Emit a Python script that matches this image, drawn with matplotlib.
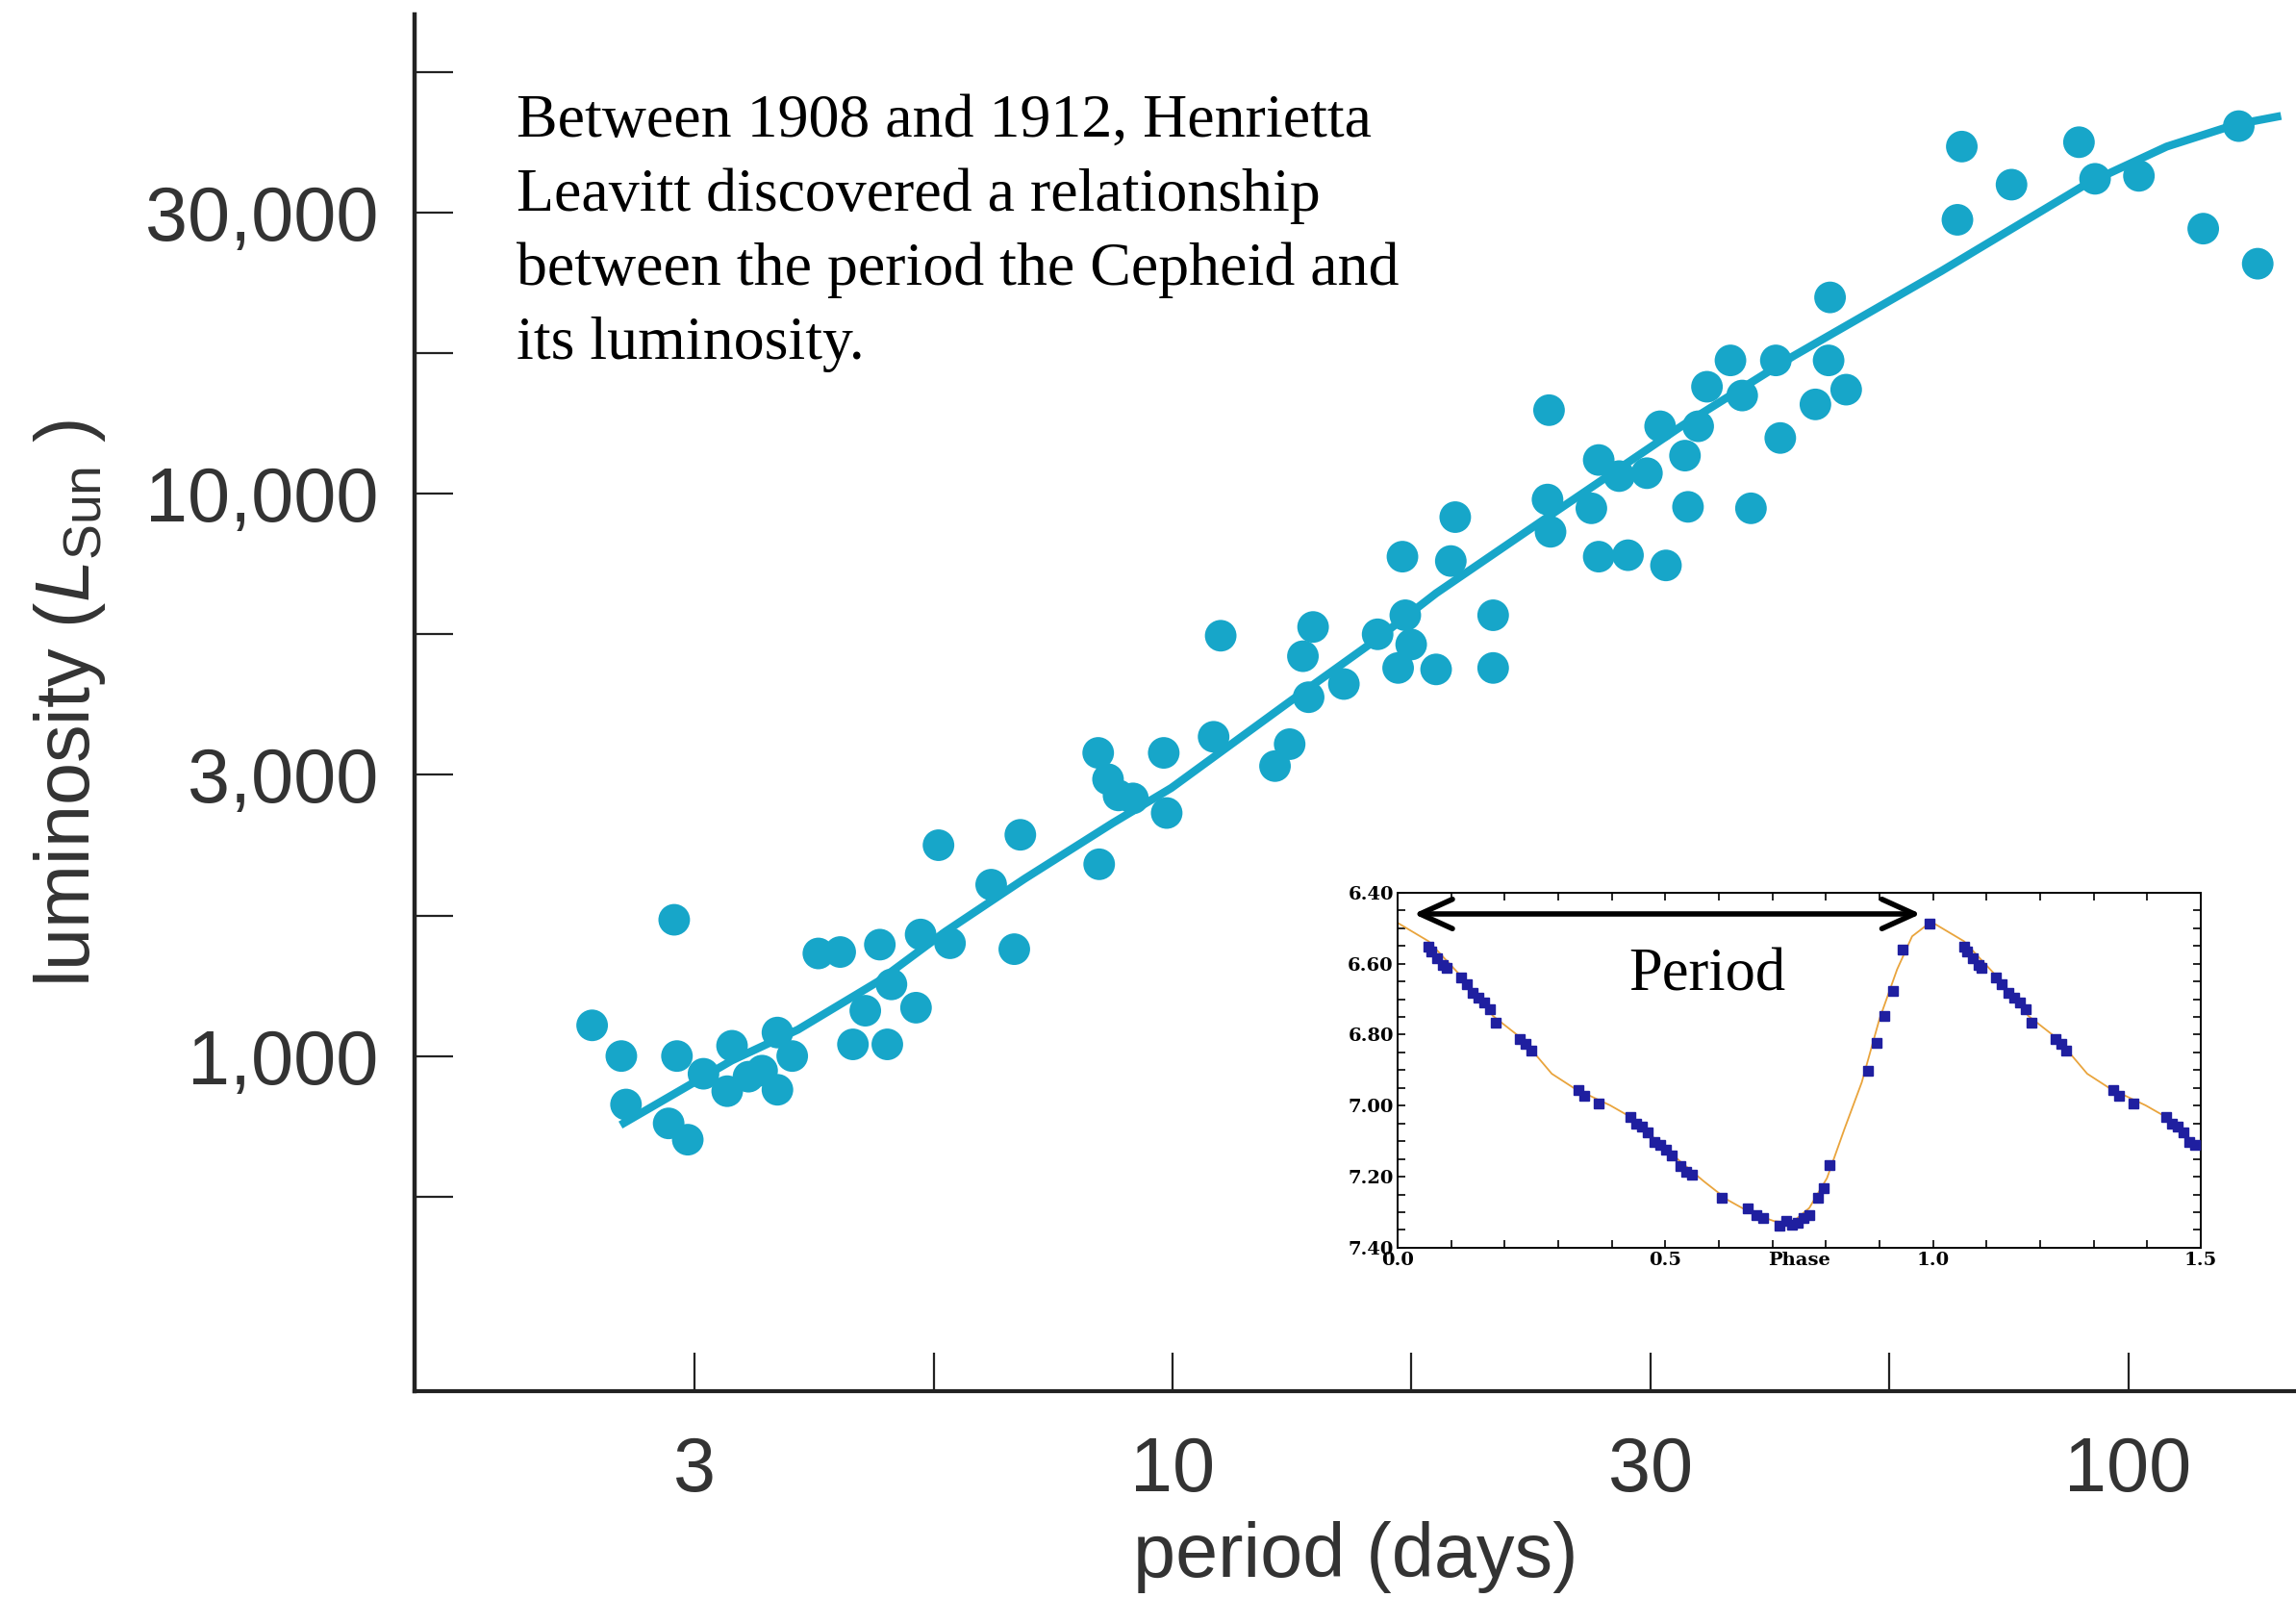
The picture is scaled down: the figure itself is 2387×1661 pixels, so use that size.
import numpy as np
import matplotlib
matplotlib.use("Agg")
import matplotlib.pyplot as plt
from matplotlib.ticker import FixedLocator, NullFormatter, FixedFormatter, MultipleLocator

# ---------------- data (main period-luminosity diagram) ----------------
period_days = [2.47, 2.65, 2.68, 3.01, 2.97, 3.11, 3.03, 3.23, 3.42, 3.46,
               3.60, 3.72, 3.86, 3.86, 4.00, 4.26, 4.49, 4.63, 4.77, 4.94,
               5.03, 5.08, 5.39, 5.45, 5.69, 5.85, 6.46, 6.83, 6.93, 8.36,
               8.38, 8.56, 8.78, 9.09, 9.79, 9.86, 11.04, 11.23, 12.80, 13.26,
               13.69, 13.88, 14.03, 15.11, 16.39, 17.40, 17.52, 17.77, 17.22, 18.87,
               19.55, 19.76, 21.65, 21.65, 24.77, 24.68, 24.86, 27.43, 27.92, 27.92,
               29.33, 29.96, 31.36, 32.37, 32.83, 34.37, 34.62, 35.48, 36.24, 38.35,
               39.45, 40.29, 42.78, 43.24, 47.06, 48.58, 48.75, 50.68, 66.96, 66.26,
               75.48, 88.80, 92.31, 102.6, 119.8, 130.5, 136.6]
luminosity_lsun = [1134, 1000, 820, 1747, 759, 710, 1000, 930, 866, 1043,
                   919, 942, 1101, 871, 1000, 1522, 1531, 1049, 1204, 1578,
                   1049, 1341, 1219, 1645, 2371, 1587, 2017, 1549, 2474, 3460,
                   2193, 3106, 2907, 2872, 3460, 2705, 3696, 5590, 3278, 3586,
                   5140, 4346, 5794, 4587, 5623, 7727, 6079, 5393, 4899, 4870,
                   7590, 9085, 6079, 4899, 14077, 9763, 8554, 9419, 11478, 7727,
                   10746, 7773, 10876, 13178, 7455, 11686, 9475, 13178, 15494, 17258,
                   14947, 9419, 17258, 12561, 14413, 17258, 22336, 15310, 41420, 30690,
                   35440, 42170, 36300, 36740, 29600, 45040, 25640]

fit_period = [2.645, 3.458, 4.055, 4.92, 5.787, 7.00, 8.654, 9.97, 13.26, 16.33,
              18.87, 24.68, 34.25, 44.63, 63.74, 90.70, 109.7, 129.5, 144.5]
fit_lum = [754, 982, 1114, 1357, 1665, 2066, 2595, 2997, 4268, 5500,
           6652, 9085, 13260, 17570, 24880, 35650, 41420, 45330, 46960]

# tick values (log positions) and labels
x_label_vals = [10**0.5, 10**1.0, 10**1.5, 10**2.0]
x_labels = ["3", "10", "30", "100"]
y_label_vals = [10**3.0, 10**3.5, 10**4.0, 10**4.5]
y_labels = ["1,000", "3,000", "10,000", "30,000"]

# ---------------- data (inset light curve, one cycle of phase) ----------------
lc_phase = [0.058, 0.063, 0.074, 0.085, 0.091, 0.118, 0.129, 0.140, 0.151, 0.162,
            0.173, 0.184, 0.228, 0.239, 0.249, 0.337, 0.348, 0.375, 0.435, 0.446,
            0.457, 0.468, 0.479, 0.490, 0.501, 0.512, 0.528, 0.539, 0.550, 0.605,
            0.654, 0.670, 0.682, 0.714, 0.725, 0.736, 0.747, 0.758, 0.769, 0.786,
            0.796, 0.807, 0.879, 0.895, 0.909, 0.926, 0.944, 0.993]
lc_mag = [6.551, 6.565, 6.584, 6.603, 6.612, 6.640, 6.658, 6.682, 6.696, 6.710,
          6.728, 6.766, 6.812, 6.826, 6.845, 6.957, 6.971, 6.994, 7.032, 7.050,
          7.060, 7.074, 7.101, 7.111, 7.125, 7.139, 7.171, 7.185, 7.195, 7.260,
          7.288, 7.307, 7.316, 7.339, 7.325, 7.335, 7.330, 7.316, 7.307, 7.260,
          7.232, 7.167, 6.901, 6.822, 6.747, 6.677, 6.560, 6.488]
curve_phase = [0.0, 0.058, 0.124, 0.178, 0.233, 0.288, 0.331, 0.397, 0.44, 0.485,
               0.528, 0.572, 0.616, 0.66, 0.703, 0.736, 0.769, 0.802, 0.835, 0.867,
               0.90, 0.933, 0.961, 0.993, 1.0]
curve_mag = [6.485, 6.537, 6.644, 6.747, 6.812, 6.910, 6.952, 6.999, 7.036, 7.100,
             7.157, 7.213, 7.265, 7.302, 7.325, 7.330, 7.288, 7.204, 7.064, 6.934,
             6.756, 6.616, 6.523, 6.486, 6.485]
inset_xticks = [0.0, 0.5, 1.0, 1.5]
inset_xticklabels = ["0.0", "0.5", "1.0", "1.5"]
inset_yticks = [6.40, 6.60, 6.80, 7.00, 7.20, 7.40]
inset_yticklabels = ["6.40", "6.60", "6.80", "7.00", "7.20", "7.40"]

# ---------------- styling ----------------
plt.rcParams["mathtext.fontset"] = "custom"
plt.rcParams["mathtext.rm"] = "Liberation Sans"
plt.rcParams["mathtext.it"] = "Liberation Sans:italic"
plt.rcParams["font.family"] = ["Liberation Sans", "DejaVu Sans"]

CYAN = "#17a6c9"
GRAY = "#333333"

fig = plt.figure(figsize=(23.87, 16.61), dpi=100)
ax = fig.add_axes([0.1806, 0.1294, 0.8194, 0.8615])
ax.set_xscale("log")
ax.set_yscale("log")
ax.set_xlim(10**0.207, 10**2.1755)
ax.set_ylim(10**2.404, 10**4.852)

ax.plot(fit_period, fit_lum, color=CYAN, lw=6, solid_capstyle="butt",
        solid_joinstyle="round", zorder=2)
ax.scatter(period_days, luminosity_lsun, s=560, color=CYAN, edgecolors="none", zorder=3)

for side in ("top", "right"):
    ax.spines[side].set_visible(False)
ax.spines["left"].set_linewidth(3.2)
ax.spines["bottom"].set_linewidth(3.0)
ax.spines["left"].set_color("#222222")
ax.spines["bottom"].set_color("#222222")

ax.xaxis.set_major_locator(FixedLocator(x_label_vals))
ax.xaxis.set_major_formatter(FixedFormatter(x_labels))
ax.xaxis.set_minor_locator(FixedLocator([10**0.75, 10**1.25, 10**1.75]))
ax.xaxis.set_minor_formatter(NullFormatter())
ax.yaxis.set_major_locator(FixedLocator(y_label_vals))
ax.yaxis.set_major_formatter(FixedFormatter(y_labels))
ax.yaxis.set_minor_locator(FixedLocator([10**2.75, 10**3.25, 10**3.75, 10**4.25, 10**4.75]))
ax.yaxis.set_minor_formatter(NullFormatter())

ax.tick_params(axis="both", which="both", direction="in", length=29, width=1.6,
               color="#222222", labelsize=57, labelcolor=GRAY)
ax.tick_params(axis="y", which="both", pad=27)
ax.tick_params(axis="x", which="both", pad=33)

ax.set_xlabel("period (days)", fontsize=57, color=GRAY, labelpad=10)
ax.set_ylabel(r"luminosity ($L_{\mathrm{Sun}}$ )", fontsize=57, color=GRAY, labelpad=28)

fig.text(537 / 2387, 1 - 98 / 1661,
         "Between 1908 and 1912, Henrietta\nLeavitt discovered a relationship\n"
         "between the period the Cepheid and\nits luminosity.",
         family=["Liberation Serif", "DejaVu Serif"], fontsize=46, color="black",
         ha="left", va="top", linespacing=1.42)

# ---------------- inset light curve ----------------
ax_in = fig.add_axes([0.6087, 0.2192, 0.3498, 0.2222])
ax_in.set_facecolor("white")
ph = np.asarray(lc_phase)
mg = np.asarray(lc_mag)
cph = np.asarray(curve_phase)
cmg = np.asarray(curve_mag)
ax_in.plot(np.concatenate([cph, cph[1:] + 1]), np.concatenate([cmg, cmg[1:]]),
           color="#e9a43c", lw=1.3, zorder=2)
sel = ph + 1 <= 1.5
ax_in.plot(np.concatenate([ph, ph[sel] + 1]), np.concatenate([mg, mg[sel]]),
           ls="none", marker="s", ms=6.5, color="#1f1fa0", zorder=3)
ax_in.set_xlim(0, 1.5)
ax_in.set_ylim(7.40, 6.40)
ax_in.set_xticks(inset_xticks)
ax_in.set_xticklabels(inset_xticklabels)
ax_in.set_yticks(inset_yticks)
ax_in.set_yticklabels(inset_yticklabels)
ax_in.xaxis.set_minor_locator(MultipleLocator(0.1))
ax_in.yaxis.set_minor_locator(MultipleLocator(0.05))
ax_in.tick_params(axis="both", which="both", direction="in", top=True, right=True,
                  length=6, width=1.2, labelsize=14, pad=3)
for lab in ax_in.get_xticklabels() + ax_in.get_yticklabels():
    lab.set_family(["DejaVu Serif"])
    lab.set_fontweight("bold")
for sp in ax_in.spines.values():
    sp.set_linewidth(1.4)
ax_in.text(0.75, -0.012, "Phase", transform=ax_in.get_xaxis_transform(),
           ha="center", va="top", fontsize=14, fontweight="bold", family=["DejaVu Serif"])
ax_in.annotate("", xy=(0.03, 6.46), xytext=(0.977, 6.46),
               arrowprops=dict(arrowstyle="<->,head_length=1.1,head_width=0.5",
                               lw=4, color="black", mutation_scale=22,
                               shrinkA=0, shrinkB=0))
ax_in.text(0.578, 6.636, "Period", ha="center", va="center", fontsize=45,
           family=["Liberation Serif", "DejaVu Serif"], color="black")

fig.savefig("out.png", dpi=100, facecolor="white")
